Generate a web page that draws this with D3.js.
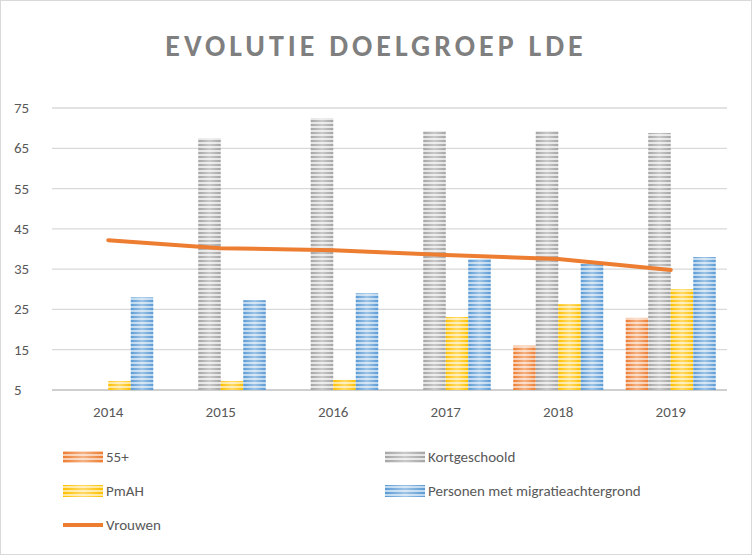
<!DOCTYPE html>
<html><head><meta charset="utf-8">
<script src="https://cdn.jsdelivr.net/npm/d3@7"></script>
<style>body{margin:0;background:#fff}</style></head>
<body><svg id="c" width="752" height="555"></svg>
<script>
const years=["2014","2015","2016","2017","2018","2019"];
const s55=[null,null,null,null,16,22.9];
const kort=[null,67.5,72.5,69.3,69.3,68.8];
const pmah=[7.2,7.2,7.5,23.1,26.3,30];
const migr=[28,27.3,29,37.5,36.3,38];
const vrouwen=[42.2,40.2,39.7,38.5,37.5,34.8];
const yTicks=[5,15,25,35,45,55,65,75];
const names=["55+","Kortgeschoold","PmAH","Personen met migratieachtergrond"];
const colors=["#ED7D31","#A5A5A5","#FFC000","#5B9BD5"];
const light=["#F8CBAD","#E4E4E4","#FFE699","#BDD7EE"];
const series=[s55,kort,pmah,migr];

const svg=d3.select("#c");
svg.append("rect").attr("x",0.5).attr("y",0.5).attr("width",751).attr("height",554).attr("fill","#fff").attr("stroke","#D9D9D9");
const defs=svg.append("defs");
colors.forEach((c,i)=>{
 const p=defs.append("pattern").attr("id","p"+i).attr("patternUnits","userSpaceOnUse").attr("width",4).attr("height",4);
 p.append("rect").attr("width",4).attr("height",4).attr("fill",c);
 p.append("rect").attr("y",2).attr("width",4).attr("height",2).attr("fill",light[i]);
});
const g=defs.append("linearGradient").attr("id","sh");
g.append("stop").attr("offset","0").attr("stop-color","#fff").attr("stop-opacity",0);
g.append("stop").attr("offset","0.5").attr("stop-color","#fff").attr("stop-opacity",0.4);
g.append("stop").attr("offset","1").attr("stop-color","#fff").attr("stop-opacity",0);

svg.append("text").attr("x",376).attr("y",56).attr("text-anchor","middle")
 .attr("font-family","Calibri, Carlito, 'Open Sans', sans-serif").attr("font-size",30).attr("font-weight","bold")
 .attr("letter-spacing",4).attr("fill","#7F7F7F").text("EVOLUTIE DOELGROEP LDE");

const x=d3.scaleBand().domain(years).range([52,727]);
const y=d3.scaleLinear().domain([5,75]).range([390,108]);
const xs=d3.scaleBand().domain(d3.range(4)).range([0,x.bandwidth()]).paddingOuter(0.5);
const font="Calibri, Carlito, 'Open Sans', sans-serif";

yTicks.forEach(t=>{
 svg.append("line").attr("x1",52).attr("x2",727).attr("y1",y(t)).attr("y2",y(t)).attr("stroke",t===5?"#BFBFBF":"#D9D9D9").attr("stroke-width",t===5?1.5:1.3);
 svg.append("text").attr("x",14).attr("y",y(t)+5).attr("font-family",font).attr("font-size",15).attr("fill","#595959").text(t);
});
years.forEach(yr=>svg.append("text").attr("x",x(yr)+x.bandwidth()/2).attr("y",417).attr("text-anchor","middle").attr("font-family",font).attr("font-size",15).attr("fill","#595959").text(yr));

series.forEach((s,i)=>{
 years.forEach((yr,j)=>{
  if(s[j]==null) return;
  const bx=x(yr)+xs(i), bw=xs.bandwidth();
  svg.append("rect").attr("x",bx).attr("y",y(s[j])).attr("width",bw).attr("height",y(5)-y(s[j])).attr("fill","url(#p"+i+")");
  svg.append("rect").attr("x",bx).attr("y",y(s[j])).attr("width",bw).attr("height",y(5)-y(s[j])).attr("fill","url(#sh)");
 });
});
svg.append("path").datum(vrouwen).attr("fill","none").attr("stroke","#ED7D31").attr("stroke-width",4).attr("stroke-linecap","round")
 .attr("d",d3.line().x((d,i)=>x(years[i])+x.bandwidth()/2).y(d=>y(d)));

const leg=[[63,457,0],[385,457,1],[63,491,2],[385,491,3]];
leg.forEach(([lx,ly,i])=>{
 svg.append("rect").attr("x",lx).attr("y",ly-6).attr("width",40).attr("height",12).attr("fill","url(#p"+i+")");
 svg.append("rect").attr("x",lx).attr("y",ly-6).attr("width",40).attr("height",12).attr("fill","url(#sh)");
 svg.append("text").attr("x",lx+43).attr("y",ly+5).attr("font-family",font).attr("font-size",15).attr("fill","#595959").text(names[i]);
});
svg.append("line").attr("x1",63).attr("x2",103).attr("y1",525).attr("y2",525).attr("stroke","#ED7D31").attr("stroke-width",4);
svg.append("text").attr("x",106).attr("y",530).attr("font-family",font).attr("font-size",15).attr("fill","#595959").text("Vrouwen");
</script></body></html>
